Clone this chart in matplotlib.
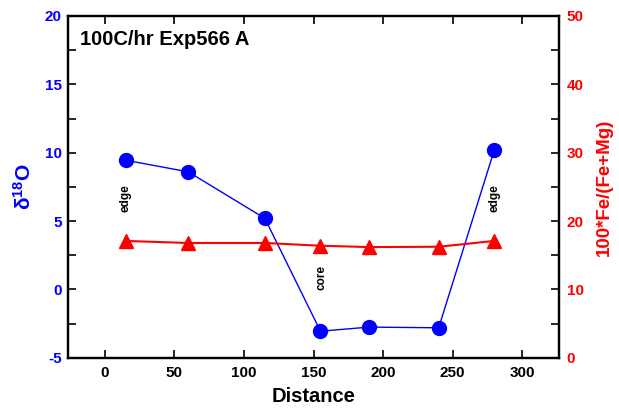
import matplotlib
matplotlib.use('Agg')
import matplotlib.pyplot as plt
import numpy as np

plt.rcParams['font.family'] = ['Liberation Sans', 'DejaVu Sans']
plt.rcParams['font.weight'] = 'bold'
plt.rcParams['axes.unicode_minus'] = False
plt.rcParams['mathtext.fontset'] = 'custom'
plt.rcParams['mathtext.rm'] = 'Liberation Sans:bold'
plt.rcParams['mathtext.bf'] = 'Liberation Sans:bold'

# data
dist = [15, 60, 115, 155, 190, 240, 280]
d18o = [9.45, 8.6, 5.2, -3.05, -2.75, -2.8, 10.2]
fe_ratio = [17.1, 16.8, 16.8, 16.4, 16.2, 16.25, 17.1]

notes = ['edge', 'core', 'edge']
note_x = [15, 156, 280]
note_y = [6.7, 0.9, 6.7]

title = '100C/hr Exp566 A'

fig = plt.figure(figsize=(6.19, 4.09), dpi=100)
ax = fig.add_axes([0.11, 0.125, 0.793, 0.836])
ax2 = ax.twinx()

ax.plot(dist, d18o, '-o', color='blue', linewidth=1, markersize=10, zorder=3)
ax2.plot(dist, fe_ratio, '-^', color='red', linewidth=1.5, markersize=10.5, zorder=3)

ax.set_xlim(-26.5, 326.5)
ax.set_ylim(-5, 20)
ax2.set_ylim(0, 50)

ax.set_xticks(np.arange(0, 301, 50))
ax.set_yticks(np.arange(-5, 21, 5))
ax.set_yticks(np.arange(-5, 20, 2.5), minor=True)
ax2.set_yticks(np.arange(0, 51, 10))
ax2.set_yticks(np.arange(0, 51, 5), minor=True)

ax.tick_params(axis='x', direction='in', top=True, length=6, width=1.2, labelsize=11, pad=6)
ax.tick_params(axis='y', which='both', direction='in', length=6, width=1.2,
               labelsize=11, labelcolor='blue', right=False, pad=4.5)
ax2.tick_params(axis='y', which='both', direction='in', length=6, width=1.2,
                labelsize=11, labelcolor='red', pad=5.5)
for a in (ax, ax2):
    for s in a.spines.values():
        s.set_linewidth(1.6)

ax.set_xlabel('Distance', fontsize=14.5, fontweight='bold', labelpad=5)
ax.set_ylabel(r'$\mathbf{\delta^{18}O}$', fontsize=15, color='blue', labelpad=7)
ax2.set_ylabel('100*Fe/(Fe+Mg)', fontsize=13.5, fontweight='bold', color='red', labelpad=9)

ax.text(0.024, 0.93, title, transform=ax.transAxes, fontsize=14.5, fontweight='bold',
        ha='left', va='center')

for t, x, y in zip(notes, note_x, note_y):
    ax.text(x, y, t, rotation=90, fontsize=8.5, fontweight='bold',
            ha='center', va='center')

fig.savefig('out.png', dpi=100)
